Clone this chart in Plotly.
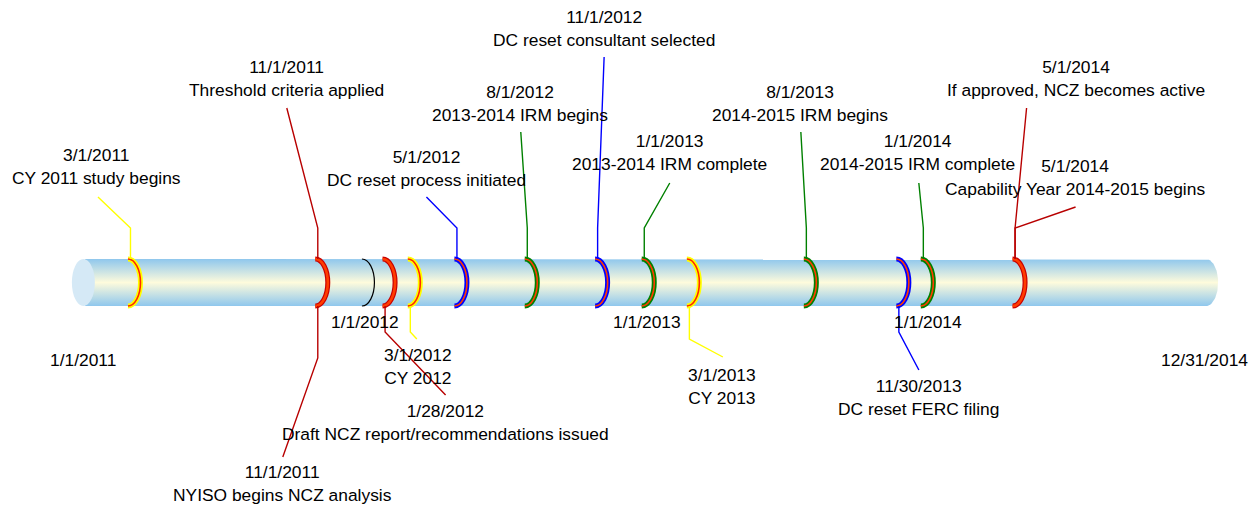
import datetime as dt
import math
import plotly.graph_objects as go

# ---------------- data ----------------
TIMELINE_START = "2011-01-01"
TIMELINE_END = "2014-12-31"
YEAR_MARKS = ["2012-01-01", "2013-01-01", "2014-01-01"]

EVENT_DATES = ["2011-03-01", "2011-11-01", "2011-11-01", "2012-01-28", "2012-03-01",
               "2012-05-01", "2012-08-01", "2012-11-01", "2013-01-01", "2013-03-01",
               "2013-08-01", "2013-11-30", "2014-01-01", "2014-05-01", "2014-05-01"]
EVENT_TEXT = ["CY 2011 study begins", "Threshold criteria applied", "NYISO begins NCZ analysis",
              "Draft NCZ report/recommendations issued", "CY 2012",
              "DC reset process initiated", "2013-2014 IRM begins", "DC reset consultant selected",
              "2013-2014 IRM complete", "CY 2013", "2014-2015 IRM begins", "DC reset FERC filing",
              "2014-2015 IRM complete", "If approved, NCZ becomes active",
              "Capability Year 2014-2015 begins"]
EVENT_TYPE = ["CY", "NCZ", "NCZ", "NCZ", "CY", "DC", "IRM", "DC", "IRM", "CY", "IRM", "DC",
              "IRM", "NCZ", "NCZ"]

# ---------------- layout / style (not data) ----------------
W, H = 1260, 506
X_RANGE = ["2010-09-12", "2015-03-18"]
TOP, BOT = 259, 306
MID = (TOP + BOT) / 2
RING_RX = 12.5

# per event: bend y, leader end dx (px), leader end y, label dx (px), label mid y
PLACEMENT = [
    (228, -32, 197, -33, 166.5),
    (228, -30.5, 108, -30.5, 78),
    (358, -34.5, 457, -34.5, 483.5),
    (332, 61, 395, 61, 422.5),
    (332, 7, 339, 8, 366),
    (228, -30, 197, -30, 168),
    (228, -6, 132, -7, 103),
    (228, 7, 57, 7, 28.5),
    (228, 26, 183, 26, 152.5),
    (339, 34, 357, 33, 386),
    (228, -5, 132, -6, 103),
    (332, 20.5, 370, 20, 397.5),
    (228, -4, 183, -5, 152.5),
    (228, 12, 108, 61.5, 78.5),
    (228, 61, 207, 60.5, 177.5),
]
STYLE = {
    "CY": dict(leader="#ffff00", outer="#ffff00", inner="#ff2a00", iw=1.6),
    "NCZ": dict(leader="#b80000", outer="#c80000", inner="#ff3c00", iw=2.6),
    "DC": dict(leader="#0000ff", outer="#0000ff", inner="#ff3c00", iw=1.6),
    "IRM": dict(leader="#008000", outer="#008000", inner="#ff3c00", iw=1.6),
}
FONT = dict(family="Arial, 'Liberation Sans', sans-serif", size=17.4, color="black")

x0d = dt.datetime.fromisoformat(X_RANGE[0])
x1d = dt.datetime.fromisoformat(X_RANGE[1])
PPD = W / (x1d - x0d).days  # pixels per day


def shift(date_str, px):
    return dt.datetime.fromisoformat(date_str) + dt.timedelta(days=px / PPD)


def fmt(date_str):
    d = dt.date.fromisoformat(date_str)
    return f"{d.month}/{d.day}/{d.year}"


fig = go.Figure()

# ---------------- tube body with gradient ----------------
xs, ys = [], []
xs.append(shift(TIMELINE_START, 0)); ys.append(TOP)
n = 40
for i in range(n + 1):
    t = -math.pi / 2 + math.pi * i / n
    xs.append(shift(TIMELINE_END, 5 + 12 * math.cos(t)))
    ys.append(MID + (BOT - MID) * math.sin(t))
xs.append(shift(TIMELINE_START, 0)); ys.append(BOT)
fig.add_trace(go.Scatter(
    x=xs, y=ys, mode="lines", fill="toself", line=dict(width=0),
    fillcolor="#cfe6f2",
    fillgradient=dict(type="vertical",
                      colorscale=[[0, "#8fc7ed"], [0.5, "#fefbdc"], [1, "#8fc7ed"]]),
    hoverinfo="skip", showlegend=False))

shapes = []
# left end cap
shapes.append(dict(type="circle", xref="x", yref="y", xsizemode="pixel", xanchor=TIMELINE_START,
                   x0=-13, x1=10, y0=TOP, y1=BOT, fillcolor="#d5e9f6", line=dict(width=0),
                   layer="above"))


def ring_path(rx=RING_RX, x0=-2):
    k = 0.5523
    ry = BOT - MID
    return (f"M {x0},{TOP} C {x0 + k * rx},{TOP} {x0 + rx},{MID - k * ry} {x0 + rx},{MID} "
            f"C {x0 + rx},{MID + k * ry} {x0 + k * rx},{BOT} {x0},{BOT}")


# year marker rings
for d in YEAR_MARKS:
    shapes.append(dict(type="path", xref="x", yref="y", xsizemode="pixel", xanchor=d,
                       path=ring_path(), line=dict(color="black", width=1.2)))

# event rings
seen = set()
for d, tp in zip(EVENT_DATES, EVENT_TYPE):
    if d in seen:
        continue
    seen.add(d)
    st = STYLE[tp]
    shapes.append(dict(type="path", xref="x", yref="y", xsizemode="pixel", xanchor=d,
                       path=ring_path(), line=dict(color=st["outer"], width=5)))
    shapes.append(dict(type="path", xref="x", yref="y", xsizemode="pixel", xanchor=d,
                       path=ring_path(), line=dict(color=st["inner"], width=st["iw"])))

annotations = []
# leaders and labels
for d, txt, tp, (bend_y, edx, ey, ldx, ly) in zip(EVENT_DATES, EVENT_TEXT, EVENT_TYPE, PLACEMENT):
    st = STYLE[tp]
    start_y = TOP if ey < MID else BOT
    shapes.append(dict(type="path", xref="x", yref="y", xsizemode="pixel", xanchor=d,
                       path=f"M 0.5,{start_y} L 0.5,{bend_y} L {edx},{ey}",
                       line=dict(color=st["leader"], width=1.4)))
    annotations.append(dict(xref="x", yref="y", x=d, y=ly, xshift=ldx,
                            text=f"{fmt(d)}<br>{txt}", showarrow=False, align="center",
                            xanchor="center", yanchor="middle", font=FONT))

# axis date labels
AXIS_LABELS = [(TIMELINE_START, -2, 360), (TIMELINE_END, 3, 360)] + \
    [(d, s, 322) for d, s in zip(YEAR_MARKS, [1, 3, 5])]
for d, dx, y in AXIS_LABELS:
    annotations.append(dict(xref="x", yref="y", x=d, y=y, xshift=dx, text=fmt(d),
                            showarrow=False, xanchor="center", yanchor="middle", font=FONT))

fig.update_layout(
    width=W, height=H, margin=dict(l=0, r=0, t=0, b=0),
    paper_bgcolor="white", plot_bgcolor="white",
    xaxis=dict(type="date", range=X_RANGE, visible=False, fixedrange=True),
    yaxis=dict(range=[H, 0], visible=False, fixedrange=True),
    shapes=shapes, annotations=annotations, showlegend=False,
)
fig.write_html("out.html", config={"displayModeBar": False},
               post_script="document.body.style.margin='0';document.body.style.overflow='hidden';")
